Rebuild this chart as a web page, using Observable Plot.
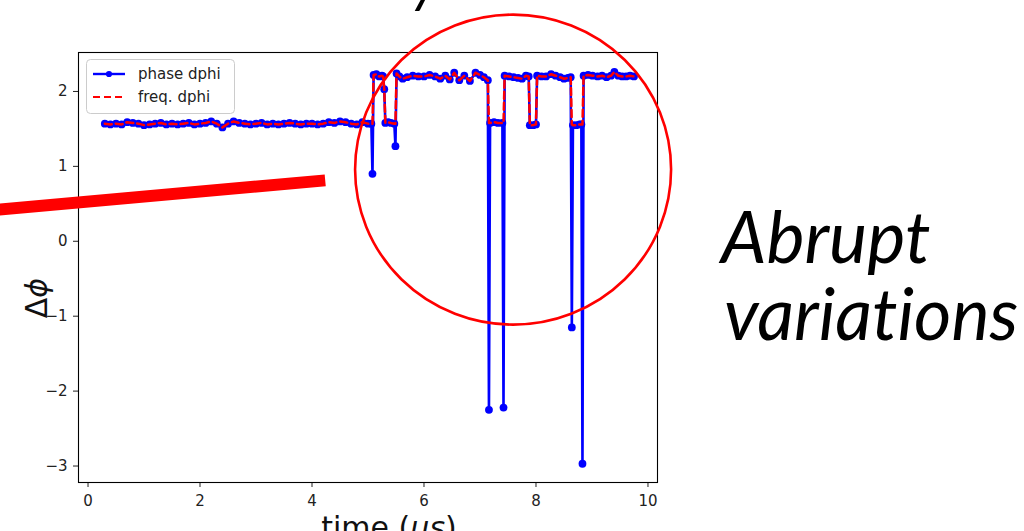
<!DOCTYPE html>
<html>
<head>
<meta charset="utf-8">
<script src="https://cdn.jsdelivr.net/npm/d3@7"></script>
<script src="https://cdn.jsdelivr.net/npm/@observablehq/plot@0.6"></script>
<style>
  html, body { margin: 0; padding: 0; background: #fff; overflow: hidden; }
  #chart { position: relative; width: 1024px; height: 531px; overflow: hidden; }
</style>
</head>
<body>
<div id="chart"></div>
<script>
// Sample times (µs)
const time = [
  0.3, 0.4, 0.5, 0.6, 0.7, 0.8, 0.9, 1.0, 1.1, 1.2, 1.3, 1.4, 1.5, 1.6, 1.7, 1.8,
  1.9, 2.0, 2.1, 2.2, 2.3, 2.4, 2.5, 2.6, 2.7, 2.8, 2.9, 3.0, 3.1, 3.2, 3.3, 3.4,
  3.5, 3.6, 3.7, 3.8, 3.9, 4.0, 4.1, 4.2, 4.3, 4.4, 4.5, 4.6, 4.7, 4.8, 4.9, 5.0,
  5.06, 5.08, 5.10, 5.15, 5.20, 5.25, 5.27, 5.29, 5.31, 5.36, 5.41, 5.47, 5.49,
  5.51, 5.56, 5.62, 5.70, 5.80, 5.90, 6.00, 6.10, 6.20, 6.29, 6.38, 6.46, 6.54,
  6.63, 6.72, 6.82, 6.92, 7.00, 7.07, 7.14, 7.16, 7.18, 7.25, 7.32, 7.40, 7.42,
  7.44, 7.52, 7.60, 7.68, 7.75, 7.82, 7.87, 7.89, 7.95, 8.00, 8.02, 8.10, 8.18,
  8.27, 8.35, 8.43, 8.50, 8.57, 8.62, 8.64, 8.66, 8.72, 8.78, 8.81, 8.83, 8.85,
  8.93, 9.01, 9.10, 9.18, 9.26, 9.34, 9.40, 9.47, 9.54, 9.61, 9.68, 9.75
];

// Phase difference from the phase estimate
const phaseDphi = [
  1.57, 1.56, 1.57, 1.56, 1.59, 1.58, 1.57, 1.55, 1.56, 1.57, 1.58, 1.56, 1.57, 1.56, 1.57, 1.58,
  1.56, 1.57, 1.58, 1.60, 1.57, 1.52, 1.57, 1.60, 1.58, 1.57, 1.56, 1.57, 1.58, 1.56, 1.57, 1.56,
  1.57, 1.58, 1.57, 1.56, 1.57, 1.57, 1.56, 1.57, 1.59, 1.58, 1.60, 1.59, 1.57, 1.56, 1.59, 1.57,
  1.57, 0.90, 2.22, 2.23, 2.20, 2.21, 2.20, 2.03, 1.58, 1.59, 1.58, 1.57, 1.27,
  2.24, 2.20, 2.17, 2.19, 2.21, 2.20, 2.20, 2.22, 2.20, 2.17, 2.21, 2.16, 2.25,
  2.15, 2.21, 2.14, 2.25, 2.22, 2.19, 2.15, -2.25, 1.58, 1.59, 1.58, 1.58, -2.22,
  2.21, 2.20, 2.19, 2.18, 2.17, 2.21, 2.20, 1.55, 1.55, 1.56, 2.21, 2.20, 2.20,
  2.23, 2.21, 2.19, 2.17, 2.18, 2.19, -1.15, 1.55, 1.55, 1.56, 1.56, -2.97, 2.21,
  2.22, 2.21, 2.20, 2.21, 2.19, 2.21, 2.26, 2.21, 2.20, 2.20, 2.21, 2.20
];

// Phase difference from the frequency estimate
const freqDphi = [
  1.57, 1.56, 1.57, 1.56, 1.59, 1.58, 1.57, 1.55, 1.56, 1.57, 1.58, 1.56, 1.57, 1.56, 1.57, 1.58,
  1.56, 1.57, 1.58, 1.60, 1.57, 1.52, 1.57, 1.60, 1.58, 1.57, 1.56, 1.57, 1.58, 1.56, 1.57, 1.56,
  1.57, 1.58, 1.57, 1.56, 1.57, 1.57, 1.56, 1.57, 1.59, 1.58, 1.60, 1.59, 1.57, 1.56, 1.59, 1.57,
  1.57, 1.57, 2.22, 2.23, 2.20, 2.21, 2.20, 2.03, 1.58, 1.59, 1.58, 1.57, 1.57,
  2.24, 2.20, 2.17, 2.19, 2.21, 2.20, 2.20, 2.22, 2.20, 2.17, 2.21, 2.16, 2.25,
  2.15, 2.21, 2.14, 2.25, 2.22, 2.19, 2.15, 1.58, 1.58, 1.59, 1.58, 1.58, 1.58,
  2.21, 2.20, 2.19, 2.18, 2.17, 2.21, 2.20, 1.55, 1.55, 1.56, 2.21, 2.20, 2.20,
  2.23, 2.21, 2.19, 2.17, 2.18, 2.19, 1.56, 1.55, 1.55, 1.56, 1.56, 1.56, 2.21,
  2.22, 2.21, 2.20, 2.21, 2.19, 2.21, 2.26, 2.21, 2.20, 2.20, 2.21, 2.20
];

const xTicks = [0, 2, 4, 6, 8, 10];
const yTicks = [-3, -2, -1, 0, 1, 2];
const seriesNames = ["phase dphi", "freq. dphi"];
const noteLines = ["Abrupt", "variations"];

const rows = time.map((t, i) => ({t, phase: phaseDphi[i], freq: freqDphi[i]}));
const fmt = d => (d < 0 ? "\u2212" + (-d) : String(d));

const BLUE = "#0000ff", RED = "#ff0000";

const plot = Plot.plot({
  width: 1024,
  height: 531,
  marginLeft: 78,
  marginRight: 367,
  marginTop: 52,
  marginBottom: 49,
  x: {domain: [-0.17, 10.17]},
  y: {domain: [-3.22, 2.52]},
  style: {fontFamily: "'DejaVu Sans', sans-serif", fontSize: "15px", color: "#222", background: "white", overflow: "visible"},
  marks: [
    Plot.axisX(xTicks, {tickSize: 5, tickPadding: 8, tickFormat: fmt, label: null, fontSize: 15}),
    Plot.axisY(yTicks, {tickSize: 5, tickPadding: 6, tickFormat: fmt, label: null, fontSize: 15}),
    Plot.line(rows, {x: "t", y: "phase", stroke: BLUE, strokeWidth: 2.6}),
    Plot.dot(rows, {x: "t", y: "phase", r: 3.9, fill: BLUE}),
    Plot.line(rows, {x: "t", y: "freq", stroke: RED, strokeWidth: 2.5, strokeDasharray: "7,4"}),
    Plot.frame({stroke: "#000", strokeWidth: 1.1}),
    // callout stroke pointing into the chart
    Plot.line([{t: -1.93, v: 0.40}, {t: 4.236, v: 0.813}], {x: "t", y: "v", stroke: RED, strokeWidth: 12, strokeLinecap: "butt"})
  ]
});

document.getElementById("chart").appendChild(plot);

const svg = d3.select(plot);
const xs = plot.scale("x"), ys = plot.scale("y");

// circle around the abrupt jumps
svg.append("ellipse")
  .attr("cx", xs.apply(7.6)).attr("cy", ys.apply(0.95))
  .attr("rx", 158).attr("ry", 155)
  .attr("fill", "none").attr("stroke", RED).attr("stroke-width", 2.6);

// legend
const lg = svg.append("g").attr("font-family", "'DejaVu Sans', sans-serif").attr("font-size", 15)
  .attr("fill", "#222").attr("text-anchor", "start");
lg.append("rect").attr("x", 86.5).attr("y", 59.5).attr("width", 148).attr("height", 54).attr("rx", 4)
  .attr("fill", "white").attr("fill-opacity", 0.8).attr("stroke", "#cccccc");
lg.append("line").attr("x1", 93).attr("x2", 125).attr("y1", 74).attr("y2", 74).attr("stroke", BLUE).attr("stroke-width", 2.4);
lg.append("circle").attr("cx", 109).attr("cy", 74).attr("r", 3.1).attr("fill", BLUE);
lg.append("text").attr("x", 138).attr("y", 74).attr("dy", "0.35em").text(seriesNames[0]);
lg.append("line").attr("x1", 93).attr("x2", 125).attr("y1", 97).attr("y2", 97).attr("stroke", RED).attr("stroke-width", 2.2).attr("stroke-dasharray", "7,4");
lg.append("text").attr("x", 138).attr("y", 97).attr("dy", "0.35em").text(seriesNames[1]);

// axis labels
const yl = svg.append("text")
  .attr("transform", "translate(47,298) rotate(-90)")
  .attr("text-anchor", "middle")
  .attr("font-family", "'DejaVu Sans', sans-serif").attr("font-size", 30).attr("fill", "#111");
yl.append("tspan").text("\u0394");
yl.append("tspan").attr("font-style", "italic").text("\u03d5");

const xl = svg.append("text")
  .attr("x", 389).attr("y", 538)
  .attr("text-anchor", "middle")
  .attr("font-family", "'DejaVu Sans', sans-serif").attr("font-size", 30).attr("fill", "#111");
xl.append("tspan").text("time (");
xl.append("tspan").attr("font-style", "italic").text("\u03bcs");
xl.append("tspan").text(")");

// slide note beside the chart
const note = svg.append("g").attr("font-family", "Lato, 'Open Sans', sans-serif").attr("font-style", "italic")
  .attr("font-size", 72).attr("fill", "#000").attr("text-anchor", "start")
  .style("font-variant-ligatures", "none");
note.append("text").attr("x", 721).attr("y", 263).text(noteLines[0]);
note.append("text").attr("x", 724).attr("y", 340).text(noteLines[1]);

// tail of the heading line above the chart
svg.append("text").attr("x", 425).attr("y", 1).attr("text-anchor", "middle")
  .attr("font-family", "Lato, 'Open Sans', sans-serif").attr("font-style", "italic").attr("font-size", 56)
  .attr("fill", "#000").text("y");
</script>
</body>
</html>
